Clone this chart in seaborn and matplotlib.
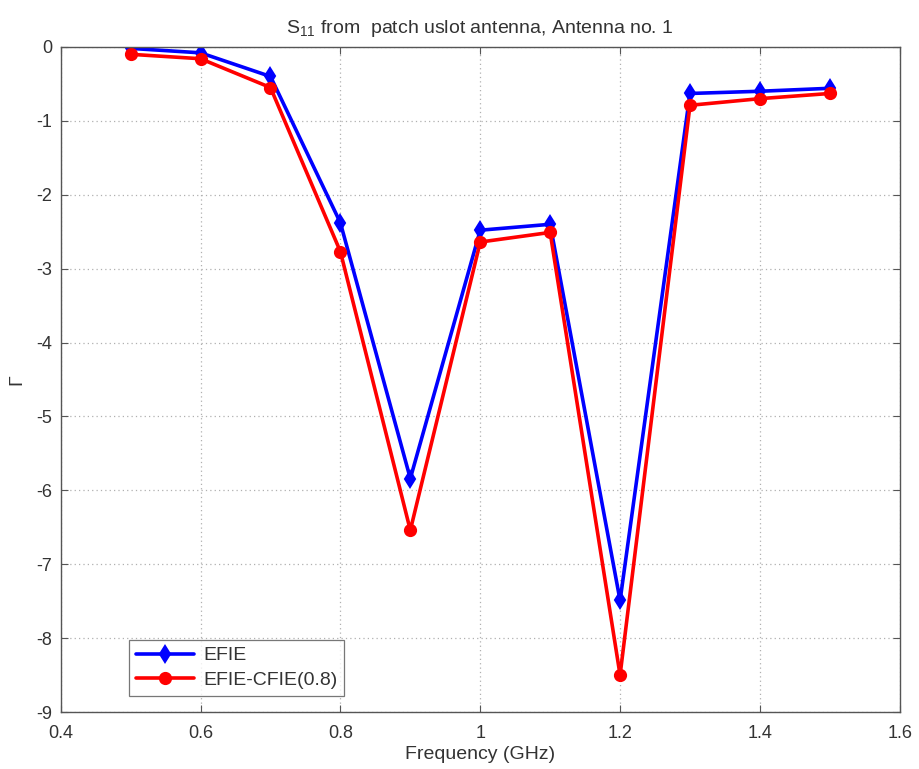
import numpy as np
import pandas as pd
import matplotlib
matplotlib.use("Agg")
import matplotlib.pyplot as plt
import seaborn as sns

freq = [0.5, 0.6, 0.7, 0.8, 0.9, 1.0, 1.1, 1.2, 1.3, 1.4, 1.5]
efie = [-0.02, -0.08, -0.40, -2.38, -5.84, -2.48, -2.40, -7.49, -0.63, -0.60, -0.56]
efie_cfie = [-0.10, -0.16, -0.55, -2.77, -6.54, -2.64, -2.51, -8.50, -0.79, -0.70, -0.63]
series_names = ["EFIE", "EFIE-CFIE(0.8)"]
x_ticks = [0.4, 0.6, 0.8, 1.0, 1.2, 1.4, 1.6]
x_tick_labels = ["0.4", "0.6", "0.8", "1", "1.2", "1.4", "1.6"]
y_ticks = [-9, -8, -7, -6, -5, -4, -3, -2, -1, 0]

df = pd.DataFrame({
    "freq": freq * 2,
    "gamma": efie + efie_cfie,
    "series": [series_names[0]] * len(freq) + [series_names[1]] * len(freq),
})

sns.set_style("white")
plt.rcParams["font.family"] = ["Liberation Sans", "DejaVu Sans"]
plt.rcParams["axes.unicode_minus"] = False
plt.rcParams["mathtext.fontset"] = "custom"
plt.rcParams["mathtext.rm"] = "Liberation Sans"

colors = {"EFIE": "#0000ff", "EFIE-CFIE(0.8)": "#ff0000"}

fig = plt.figure(figsize=(9.2, 7.69), dpi=100)
ax = fig.add_axes([0.066, 0.074, 0.912, 0.865])

sns.lineplot(data=df, x="freq", y="gamma", hue="series", style="series",
             palette=colors,
             markers={"EFIE": "d", "EFIE-CFIE(0.8)": "o"},
             dashes=False, linewidth=2.6, markersize=8,
             ax=ax, legend=True)

# marker outlines in the line colour
for line in ax.get_lines():
    line.set_markeredgecolor(line.get_color())
    line.set_markeredgewidth(1.5)

ax.set_xlim(0.4, 1.6)
ax.set_ylim(-9, 0)
ax.set_xticks(x_ticks)
ax.set_xticklabels(x_tick_labels)
ax.set_yticks(y_ticks)
ax.grid(True, linestyle=(0, (1, 2.5)), color="#b0b0b0", linewidth=0.9)
for s in ax.spines.values():
    s.set_visible(True)
    s.set_color("#555555")
    s.set_linewidth(1.0)
ax.tick_params(direction="in", length=5, width=0.8, colors="#555555",
               labelsize=13, labelcolor="#333333", top=True, right=True,
               bottom=True, left=True)
ax.tick_params(axis="x", pad=9)
ax.tick_params(axis="y", pad=6)

ax.set_xlabel("Frequency (GHz)", fontsize=14, color="#333333", labelpad=3)
ax.set_ylabel("Γ", fontsize=14, color="#333333", labelpad=8)
ax.set_title("S$_{11}$ from  patch uslot antenna, Antenna no. 1",
             fontsize=14, color="#333333", pad=10)

handles, labels = ax.get_legend_handles_labels()
for h in handles:
    h.set_markeredgecolor(h.get_color())
leg = ax.legend(handles, labels, loc="lower left",
                bbox_to_anchor=(0.07, 0.01), fontsize=14, frameon=True,
                fancybox=False, edgecolor="#555555", borderpad=0.35,
                handlelength=3.0, handletextpad=0.45, labelspacing=0.35)
leg.get_frame().set_linewidth(0.9)
for t in leg.get_texts():
    t.set_color("#333333")

fig.savefig("out.png", dpi=100, facecolor="white")
